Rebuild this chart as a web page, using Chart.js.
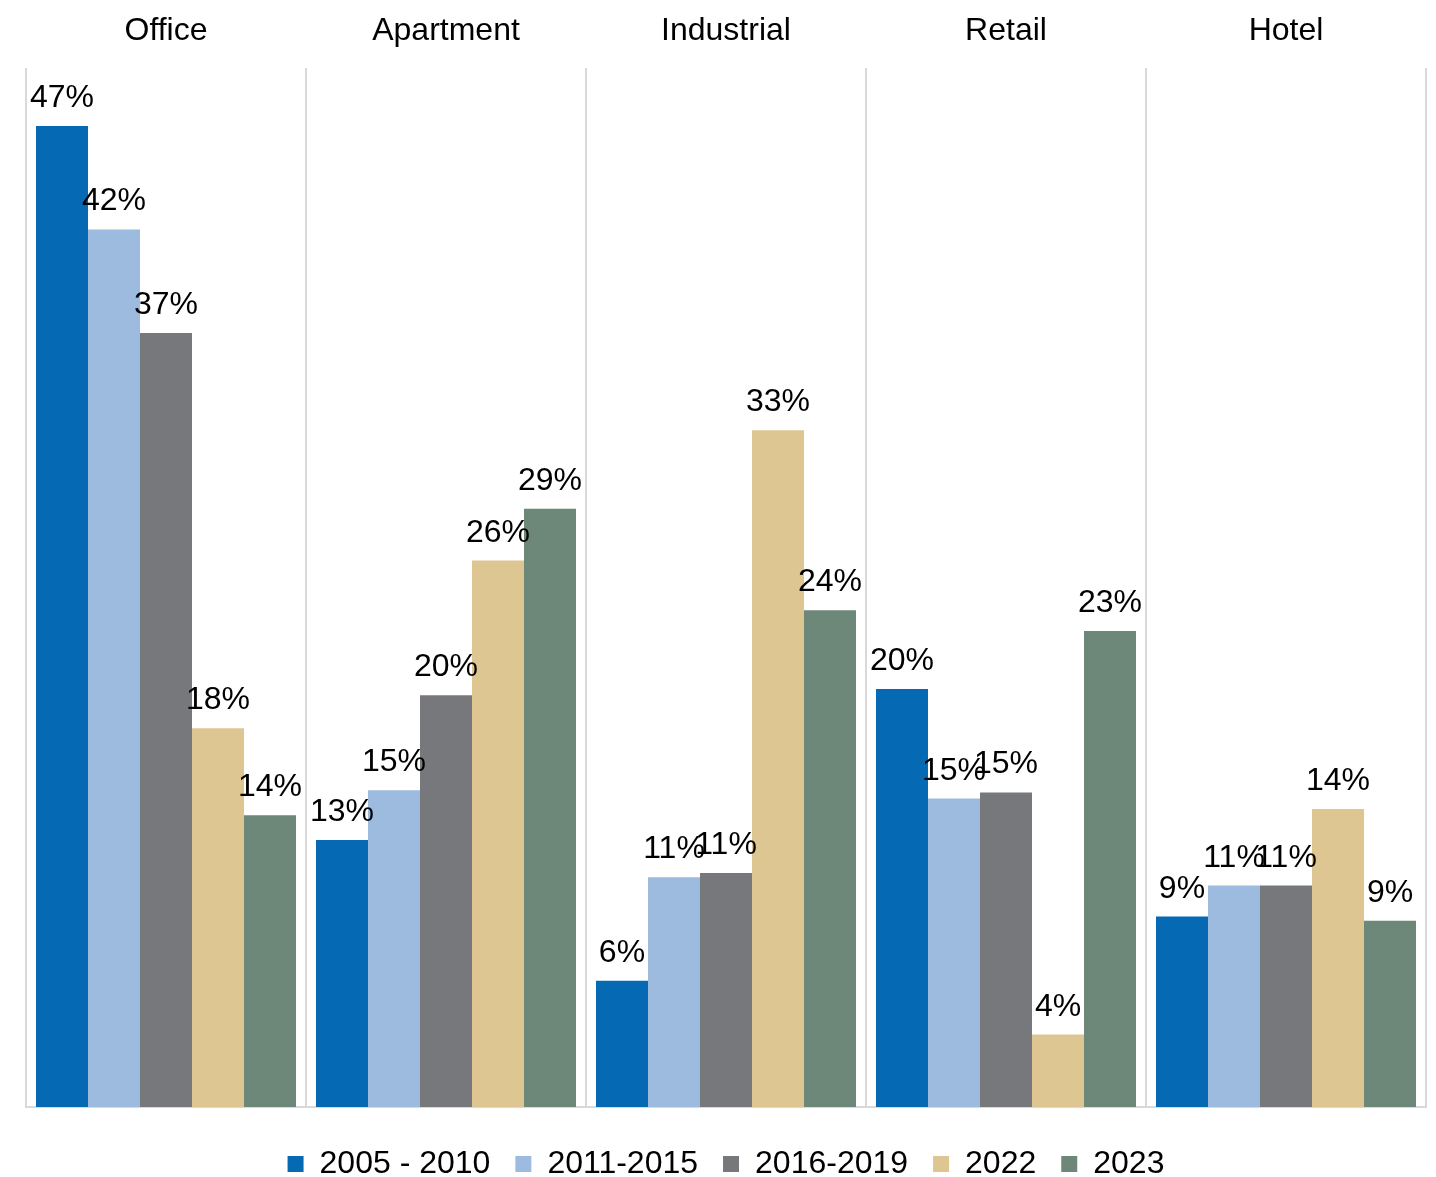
<!DOCTYPE html>
<html lang="en">
<head>
  <meta charset="UTF-8" />
  <title>Share by property type</title>
  <script src="https://cdn.jsdelivr.net/npm/chart.js"></script>
  <style>
    html, body { margin: 0; padding: 0; background: #fff; }
  </style>
</head>
<body>
  <canvas id="chartTipos" width="1436" height="1177"></canvas>

  <script>
    const categorias = ['Office', 'Apartment', 'Industrial', 'Retail', 'Hotel'];
    const series = ['2005 - 2010', '2011-2015', '2016-2019', '2022', '2023'];

    const v2005_2010 = [47.4, 12.9, 6.1, 20.2, 9.2];
    const v2011_2015 = [42.4, 15.3, 11.1, 14.9, 10.7];
    const v2016_2019 = [37.4, 19.9, 11.3, 15.2, 10.7];
    const v2022 = [18.3, 26.4, 32.7, 3.5, 14.4];
    const v2023 = [14.1, 28.9, 24.0, 23.0, 9.0];

    const valores = [v2005_2010, v2011_2015, v2016_2019, v2022, v2023];
    const cores = ['#0569b3', '#9cbbde', '#77787b', '#ddc692', '#6d8778'];

    const fonte = '"Liberation Sans", Arial, sans-serif';

    // rótulos de dados acima de cada barra
    const rotulos = {
      id: 'rotulos',
      afterDatasetsDraw(chart) {
        const ctx = chart.ctx;
        ctx.save();
        ctx.font = '32px ' + fonte;
        ctx.fillStyle = '#000';
        ctx.textAlign = 'center';
        ctx.textBaseline = 'alphabetic';
        chart.data.datasets.forEach((ds, i) => {
          chart.getDatasetMeta(i).data.forEach((bar, j) => {
            ctx.fillText(Math.round(ds.data[j]) + '%', bar.x, bar.y - 19);
          });
        });
        ctx.restore();
      }
    };

    // altura fixa da legenda
    const legendaAltura = {
      id: 'legendaAltura',
      beforeInit(chart) {
        const fitOriginal = chart.legend.fit;
        chart.legend.fit = function () {
          fitOriginal.call(this);
          this.height = 54;
        };
      }
    };

    new Chart(document.getElementById('chartTipos'), {
      type: 'bar',
      data: {
        labels: categorias,
        datasets: series.map((nome, i) => ({
          label: nome,
          data: valores[i],
          backgroundColor: cores[i],
          borderWidth: 0,
          barPercentage: 1,
          categoryPercentage: 0.9286,
          xAxisID: 'x'
        }))
      },
      options: {
        responsive: false,
        animation: false,
        layout: { padding: { left: 26, right: 10, top: 11, bottom: 0 } },
        scales: {
          x: {
            position: 'top',
            grid: { color: '#d9d9d9', lineWidth: 2, drawTicks: false, offset: true },
            border: { display: false },
            ticks: { color: '#000', padding: 18, font: { size: 32, family: fonte } },
            afterFit(scale) { scale.height = 57; }
          },
          x2: {
            position: 'bottom',
            labels: categorias,
            grid: { display: false },
            border: { display: true, color: '#d9d9d9', width: 2 },
            ticks: { display: false },
            afterFit(scale) { scale.height = 16; }
          },
          y: { display: false, min: 0, max: 50.2 }
        },
        plugins: {
          legend: {
            position: 'bottom',
            labels: {
              boxWidth: 16,
              boxHeight: 16,
              padding: 25,
              color: '#000',
              font: { size: 32, family: fonte }
            }
          },
          tooltip: { enabled: false }
        }
      },
      plugins: [rotulos, legendaAltura]
    });
  </script>
</body>
</html>
